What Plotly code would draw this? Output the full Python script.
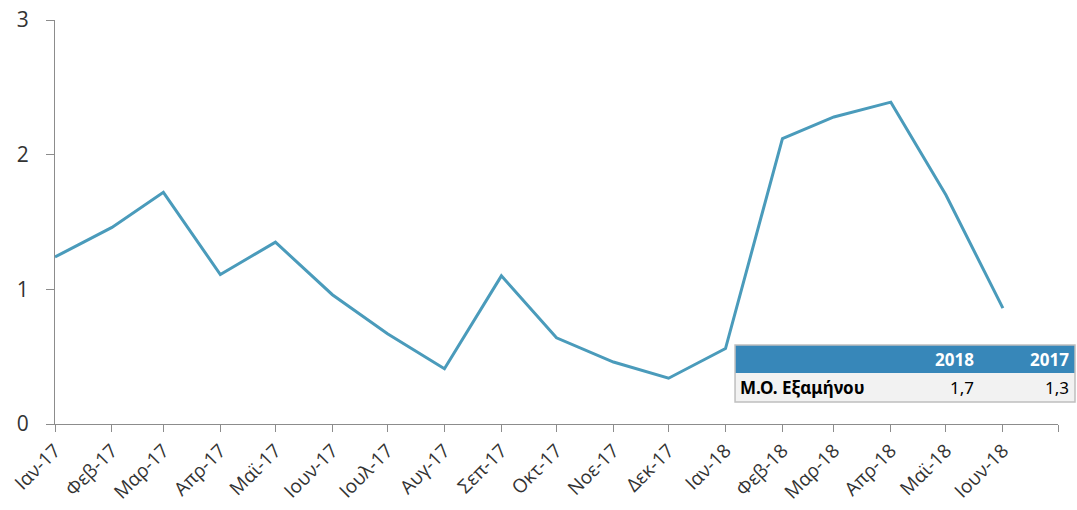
import plotly.graph_objects as go

# ---- data ----
month_labels = ["Ιαν-17", "Φεβ-17", "Μαρ-17", "Απρ-17", "Μαϊ-17", "Ιουν-17",
                "Ιουλ-17", "Αυγ-17", "Σεπ-17", "Οκτ-17", "Νοε-17", "Δεκ-17",
                "Ιαν-18", "Φεβ-18", "Μαρ-18", "Απρ-18", "Μαϊ-18", "Ιουν-18"]
month_dates = ["2017-01-01", "2017-02-01", "2017-03-01", "2017-04-01", "2017-05-01",
               "2017-06-01", "2017-07-01", "2017-08-01", "2017-09-01", "2017-10-01",
               "2017-11-01", "2017-12-01", "2018-01-01", "2018-02-01", "2018-03-01",
               "2018-04-01", "2018-05-01", "2018-06-01"]
values = [1.24, 1.46, 1.72, 1.11, 1.35, 0.96, 0.67, 0.41, 1.10,
          0.64, 0.46, 0.34, 0.56, 2.12, 2.28, 2.39, 1.70, 0.86]
axis_end = "2018-07-01"
y_ticks = [0, 1, 2, 3]

table_years = ["2018", "2017"]
table_row_label = "Μ.Ο. Εξαμήνου"
table_values = ["1,7", "1,3"]

# ---- style ----
line_color = "#4A9BBB"
header_color = "#3787B9"
row_color = "#F2F2F2"
axis_color = "#8C8C8C"
text_color = "#333333"
tbl_font = "Noto Sans"

fig = go.Figure()
fig.add_trace(go.Scatter(
    x=month_dates, y=values, mode="lines",
    line=dict(color=line_color, width=3),
    hoverinfo="skip", showlegend=False,
))

# ---- summary table (paper coordinates) ----
tbl_left, tbl_right = 0.6667, 1.0
tbl_top, tbl_mid, tbl_bottom = 0.1955, 0.1262, 0.0545
col_right = [0.903, 0.996]
label_x = 0.6696
header_text_y = (tbl_top + tbl_mid) / 2
row_text_y = (tbl_mid + tbl_bottom) / 2

fig.add_shape(type="rect", xref="paper", yref="paper", layer="above",
              x0=tbl_left, x1=tbl_right, y0=tbl_mid, y1=tbl_top,
              line=dict(width=0), fillcolor=header_color)
fig.add_shape(type="rect", xref="paper", yref="paper", layer="above",
              x0=tbl_left, x1=tbl_right, y0=tbl_bottom, y1=tbl_mid,
              line=dict(width=0), fillcolor=row_color)
fig.add_shape(type="rect", xref="paper", yref="paper", layer="above",
              x0=tbl_left, x1=tbl_right, y0=tbl_bottom, y1=tbl_top,
              line=dict(color="#BFBFBF", width=1.5), fillcolor="rgba(0,0,0,0)")

for yr, val, cx in zip(table_years, table_values, col_right):
    fig.add_annotation(xref="paper", yref="paper", x=cx, y=header_text_y,
                       text="<b>%s</b>" % yr, showarrow=False,
                       xanchor="right", yanchor="middle",
                       font=dict(family=tbl_font, size=17, color="white"))
    fig.add_annotation(xref="paper", yref="paper", x=cx, y=row_text_y,
                       text=val, showarrow=False,
                       xanchor="right", yanchor="middle",
                       font=dict(family=tbl_font, size=17, color="black"))
fig.add_annotation(xref="paper", yref="paper", x=label_x, y=row_text_y,
                   text="<b>%s</b>" % table_row_label, showarrow=False,
                   xanchor="left", yanchor="middle",
                   font=dict(family=tbl_font, size=17, color="black"))

fig.update_layout(
    width=1077, height=510,
    margin=dict(l=55, r=2, t=20, b=86),
    paper_bgcolor="white", plot_bgcolor="white",
    showlegend=False,
    xaxis=dict(
        domain=[0, 1003 / 1020],
        type="date",
        range=[month_dates[0], axis_end],
        tickmode="array",
        tickvals=month_dates + [axis_end],
        ticktext=month_labels + [""],
        tickangle=-45,
        ticks="outside", ticklen=7, tickcolor=axis_color, tickwidth=1,
        showline=True, linecolor=axis_color, linewidth=1,
        showgrid=False, zeroline=False,
        tickfont=dict(family="Open Sans", size=19, color=text_color),
    ),
    yaxis=dict(
        range=[0, 3],
        tickmode="array", tickvals=y_ticks,
        ticks="outside", ticklen=8, tickcolor=axis_color, tickwidth=1,
        showline=True, linecolor=axis_color, linewidth=1,
        showgrid=False, zeroline=False,
        ticklabelstandoff=13,
        ticklabeloverflow="allow",
        tickfont=dict(family="Open Sans", size=21, color=text_color),
    ),
)

fig.write_html(
    "out.html",
    config={"displayModeBar": False},
    post_script="document.body.style.margin='0';document.body.style.overflow='hidden';",
)
